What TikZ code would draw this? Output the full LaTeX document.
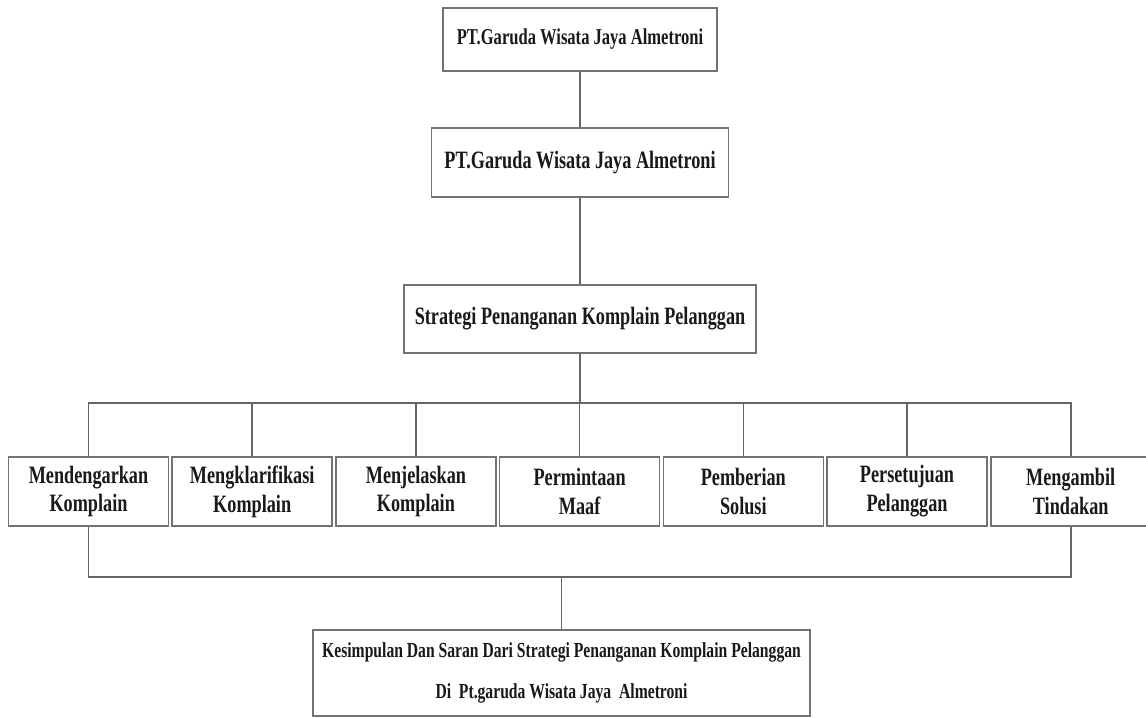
\documentclass[tikz,border=0pt]{standalone}
\usepackage{fontspec}
\newfontfamily\orgfont{Liberation Serif}[FakeStretch=0.73]

\begin{document}
\begin{tikzpicture}[
	box/.style = {draw = black!55, line width = 0.9pt, fill = white, text = black!90, align = center, inner sep = 0pt},
	link/.style = {draw = black!60, line width = 0.9pt}]
	\useasboundingbox (0, 0) rectangle (22.92, 14.34);
	
	\node[box, minimum width = 5.48 cm, minimum height = 1.26 cm, font = \orgfont\bfseries\fontsize{12.9}{15}\selectfont] (top) at (11.6, 13.55) {PT.Garuda Wisata Jaya Almetroni};
	\node[box, minimum width = 5.94 cm, minimum height = 1.38 cm, font = \orgfont\bfseries\fontsize{14.2}{16.5}\selectfont] (company) at (11.6, 11.09) {PT.Garuda Wisata Jaya Almetroni};
	\node[box, minimum width = 7.04 cm, minimum height = 1.36 cm, font = \orgfont\bfseries\fontsize{14.2}{16.5}\selectfont] (strategy) at (11.6, 7.96) {Strategi Penanganan Komplain Pelanggan};
	
	\foreach \label [count = \i] in {{Mendengarkan\\Komplain}, {Mengklarifikasi\\Komplain}, {Menjelaskan\\Komplain}, {Permintaan\\Maaf}, {Pemberian\\Solusi}, {Persetujuan\\Pelanggan}, {Mengambil\\Tindakan}}
	\node[box, minimum width = 3.2 cm, minimum height = 1.38 cm, font = \orgfont\bfseries\fontsize{14.2}{16.5}\selectfont] (s\i) at ({1.77 + 3.274*(\i - 1)}, 4.51) {\label};
	
	\node[box, minimum width = 9.94 cm, minimum height = 1.72 cm, font = \orgfont\bfseries\fontsize{12.2}{23.8}\selectfont] (summary) at (11.23, 0.88) {Kesimpulan Dan Saran Dari Strategi Penanganan Komplain Pelanggan\\Di~ Pt.garuda Wisata Jaya~ Almetroni};
	
	\coordinate (bar) at (11.6, 6.28);
	\coordinate (join) at (11.23, 2.8);
	
	\draw[link] (top) -- (company);
	\draw[link] (company) -- (strategy);
	\draw[link] (strategy) -- (bar);
	\foreach \i in {1, ..., 7}
	\draw[link] (s\i.north) |- (bar);
	
	\draw[link] (s1.south) |- (join);
	\draw[link] (s7.south) |- (join);
	\draw[link] (join) -- (summary);
\end{tikzpicture}
\end{document}
